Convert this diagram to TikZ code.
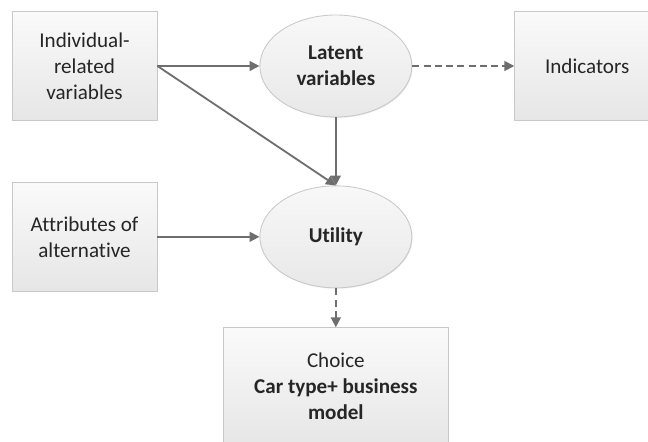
\documentclass[tikz,border=0pt]{standalone}
\usepackage{fontspec}
\setmainfont{Carlito}[Ligatures=CommonOff]
\usepackage{tikz}
\usetikzlibrary{
  shapes.geometric,
  arrows.meta,
  positioning,
  shadows
}
\definecolor{arrowgray}{RGB}{110,110,110}
\definecolor{edgegray}{RGB}{200,200,200}
\definecolor{topgray}{RGB}{250,250,250}
\definecolor{botgray}{RGB}{230,230,230}
\definecolor{elltop}{RGB}{248,248,248}
\definecolor{ellbot}{RGB}{232,232,232}
\definecolor{txtdark}{RGB}{38,38,38}
\tikzset{
  basebox/.style={draw=edgegray,line width=0.6pt,align=center,text=txtdark,
    font=\fontsize{15}{18.5}\selectfont,
    drop shadow={shadow xshift=0.6pt,shadow yshift=-0.6pt,opacity=0.18}},
  varbox/.style={basebox,rectangle,top color=topgray,bottom color=botgray,
    minimum width=3.625cm,minimum height=2.725cm},
  latnode/.style={basebox,ellipse,top color=elltop,bottom color=ellbot,
    minimum width=3.8cm,minimum height=2.55cm,font=\fontsize{15}{18.5}\selectfont\bfseries},
  arr/.style={-{Triangle[length=7pt,width=7pt]},line width=1.3pt,color=arrowgray},
  dasharr/.style={arr,dash pattern=on 5pt off 3pt}
}

\begin{document}
\begin{tikzpicture}[node distance=1.525cm and 2.55cm]
  \useasboundingbox (0,0) rectangle (16.2,-11.025);
  \node[varbox] (indiv) at (2.1125,-1.65) {Individual-\\related\\variables};
  \node[latnode,right=of indiv] (latent) {Latent\\variables};
  \node[varbox,right=of latent] (ind) {Indicators};
  \node[varbox,below=of indiv] (attr) {Attributes of\\alternative};
  \node[latnode,right=of attr] (util) {Utility};
  \node[varbox,minimum width=5.625cm,minimum height=2.95cm,below=0.975cm of util] (choice)
      {Choice\\\textbf{Car type+ business}\\\textbf{model}};

  \draw[arr] (indiv.east)--(latent.west);
  \draw[arr] (indiv.east)--(util.north);
  \draw[arr] (latent.south)--(util.north);
  \draw[arr] (attr.east)--(util.west);
  \draw[dasharr] (latent.east)--(ind.west);
  \draw[dasharr] (util.south)--(choice.north);
\end{tikzpicture}
\end{document}
